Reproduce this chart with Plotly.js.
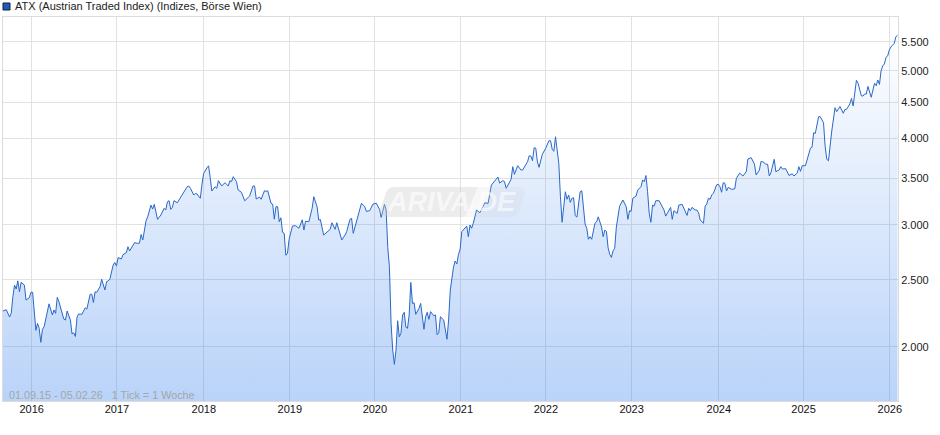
<!DOCTYPE html>
<html><head><meta charset="utf-8">
<script src="https://cdn.plot.ly/plotly-3.0.1.min.js"></script>
<style>html,body{margin:0;padding:0;background:#fff}#c{width:940px;height:435px}</style>
</head><body><div id="c"></div>
<script>
// Week number since the first tick (01.09.15), one tick = one week
const weekIndex = [
0,2,4,5,6,7,8,9,10,11,
13,14,16,17,18,19,20,21,22,23,
24,25,27,28,30,31,32,33,34,36,
37,38,39,41,42,43,44,45,46,48,
50,51,53,54,55,56,57,59,60,62,
63,64,65,67,68,69,70,72,73,75,
76,77,80,82,83,84,85,87,88,90,
91,92,94,96,98,99,100,101,102,103,
104,106,108,109,110,112,113,114,116,117,
118,120,121,122,124,125,126,127,129,130,
131,133,135,137,138,139,140,142,143,145,
147,149,150,152,153,154,156,157,159,160,
161,163,164,165,166,167,168,169,170,171,
172,173,174,176,178,180,181,182,183,184,
186,188,189,191,192,193,195,197,199,200,
202,203,206,208,209,211,212,213,215,217,
218,220,221,223,225,227,229,230,232,233,
234,235,236,237,238,239,240,241,242,243,
244,245,246,247,248,249,250,251,253,254,
256,257,258,259,260,262,263,264,265,266,
268,270,271,272,273,274,275,276,277,278,
279,281,282,283,284,285,286,288,290,292,
293,295,297,299,301,302,304,305,306,309,
310,311,313,315,316,319,320,321,322,323,
324,325,326,328,330,332,333,334,335,336,
338,339,340,341,342,343,344,345,346,347,
348,349,351,352,353,354,355,356,357,358,
360,361,362,364,365,366,367,368,369,370,
371,372,373,375,377,379,380,381,382,383,
385,386,388,389,390,391,392,393,394,395,
396,397,399,401,402,403,405,406,407,408,
410,411,413,414,415,416,417,418,419,421,
422,423,424,426,427,428,429,430,431,432,
434,435,436,437,438,439,440,441,443,445,
446,448,450,452,453,455,457,458,460,461,
462,464,465,466,467,469,470,472,473,474,
476,478,480,481,483,484,485,486,488,490,
491,492,493,494,496,497,499,500,501,502,
503,504,506,507,509,511,512,513,515,516,
517,519,520,522,523,524,525,526,528,530,
531,532,533,534,535,536,537,538,539,540,
542,543,544
];
const atxClose = [
2254,2263,2209,2236,2363,2456,2424,2491,2402,2478,
2456,2337,2355,2398,2398,2236,2114,2163,2128,2031,
2121,2139,2249,2308,2224,2261,2236,2358,2324,2229,
2194,2187,2254,2187,2088,2097,2071,2209,2231,2229,
2278,2268,2382,2382,2318,2402,2398,2443,2503,2416,
2484,2490,2505,2625,2647,2616,2690,2678,2717,2735,
2789,2750,2827,2820,2822,2905,2852,3040,3080,3202,
3160,3210,3054,3098,3168,3150,3238,3249,3157,3178,
3249,3227,3281,3322,3347,3403,3411,3385,3311,3329,
3322,3275,3432,3554,3623,3647,3509,3355,3403,3385,
3472,3411,3449,3411,3472,3461,3518,3460,3366,3341,
3248,3281,3300,3411,3411,3267,3289,3264,3358,3351,
3358,3220,3212,3056,3185,3185,3030,3070,2926,2916,
2711,2729,2859,2987,2990,2965,3020,3050,2948,3035,
3030,3168,3292,3185,3047,3052,2899,2932,2955,3020,
2955,3020,2852,2899,2932,3054,3064,2916,3040,3150,
3222,3185,3136,3143,3213,3222,3157,3074,3210,3150,
2782,2610,2163,1980,1888,1980,2182,2069,2092,2224,
2244,2136,2128,2224,2478,2311,2316,2229,2274,2311,
2121,2211,2244,2192,2249,2218,2224,2083,2097,2211,
2187,2052,2187,2416,2539,2610,2660,2634,2720,2765,
2932,2965,2987,2883,2997,2965,3015,3150,3122,3191,
3227,3220,3422,3468,3514,3445,3472,3461,3385,3488,
3637,3546,3649,3597,3597,3697,3771,3767,3709,3873,
3866,3697,3629,3790,3866,3964,3964,3853,3828,4016,
3678,3292,3025,3185,3347,3264,3311,3231,3275,3281,
3093,3076,3347,3358,3168,3007,2965,2859,2883,2859,
3015,3030,3080,2977,2883,2948,2932,2778,2720,2692,
2752,2775,2977,3191,3256,3185,3054,3143,3136,3275,
3300,3366,3403,3480,3460,3532,3347,3115,3025,3202,
3191,3249,3249,3185,3150,3087,3150,3178,3054,3143,
3115,3202,3210,3168,3115,3094,3168,3143,3178,3150,
3150,3122,3047,3015,3191,3213,3275,3264,3311,3329,
3424,3432,3404,3341,3449,3442,3355,3396,3374,3379,
3500,3560,3526,3577,3731,3747,3668,3538,3597,3702,
3697,3666,3666,3526,3565,3727,3577,3597,3637,3609,
3613,3532,3552,3526,3560,3637,3581,3649,3649,3811,
3866,3879,4070,4062,4293,4293,4208,3884,3727,3709,
3951,4093,4423,4365,4440,4342,4396,4399,4477,4562,
4448,4843,4795,4601,4597,4628,4628,4746,4578,4795,
4757,4848,4778,5000,5079,5113,5227,5250,5356,5410,
5477,5597,5622
];
const firstTick = "2015-09-01";
const lastTick = "2026-02-05";
const yearTicks = ["2016-01-01","2016-12-29","2018-01-03","2019-01-04","2020-01-01","2021-01-01","2021-12-29","2022-12-29","2024-01-04","2024-12-30","2026-01-01"];
const yearLabels = ["2016","2017","2018","2019","2020","2021","2022","2023","2024","2025","2026"];
const priceTicks = [2000,2500,3000,3500,4000,4500,5000,5500];
const priceLabels = ["2.000","2.500","3.000","3.500","4.000","4.500","5.000","5.500"];
const chartTitle = "ATX (Austrian Traded Index) (Indizes, Börse Wien)";
const rangeNote = "01.09.15 - 05.02.26\u00A0\u00A0\u00A01 Tick = 1 Woche";

const base = new Date(firstTick + "T00:00:00Z").getTime();
const dates = weekIndex.map(w => new Date(base + w * 7 * 864e5).toISOString().slice(0, 10));
const font = "Liberation Sans, Arial, sans-serif";
const L = 3, R = 898, T = 17, B = 401;
const px = x => (x - L) / (R - L), py = y => (B - y) / (B - T);

const trace = {
  x: dates, y: atxClose, type: "scatter", mode: "lines",
  line: {color: "#2a68c8", width: 1},
  fill: "tozeroy",
  fillgradient: {type: "vertical", start: 1672, stop: 5650, colorscale: [[0, "rgba(30,113,235,0.31)"], [1, "rgba(30,113,235,0.0)"]]},
  hoverinfo: "skip", showlegend: false
};
const layout = {
  width: 940, height: 435, paper_bgcolor: "#fff", plot_bgcolor: "#fff",
  margin: {l: L, r: 940 - R, t: T, b: 435 - B, pad: 0},
  font: {family: font, size: 11, color: "#222"},
  xaxis: {type: "date", range: [firstTick, lastTick], tickmode: "array", tickvals: yearTicks, ticktext: yearLabels,
    showgrid: true, gridcolor: "#e2e2e2", gridwidth: 1, zeroline: false, ticks: "", showline: true, mirror: true, linecolor: "#dcdcdc", linewidth: 1,
    ticklabelstandoff: -2, tickfont: {family: font, size: 11, color: "#111"}, fixedrange: true},
  yaxis: {type: "log", range: [Math.log10(1672), Math.log10(5975)], side: "right", tickmode: "array", tickvals: priceTicks, ticktext: priceLabels,
    showgrid: true, gridcolor: "#e2e2e2", gridwidth: 1, zeroline: false, ticks: "", showline: true, mirror: true, linecolor: "#dcdcdc", linewidth: 1,
    tickfont: {family: font, size: 11, color: "#222"}, fixedrange: true},
  shapes: [
    {type: "rect", xref: "paper", yref: "paper", x0: px(3), x1: px(10), y0: py(10), y1: py(3), fillcolor: "#1c5cba", line: {color: "#123", width: 1}},
    {type: "path", xref: "paper", yref: "paper", layer: "above", fillcolor: "rgba(200,200,200,0.35)", line: {width: 0},
     path: `M ${px(392)} ${py(217)} L ${px(465)} ${py(217)} L ${px(478)} ${py(187)} L ${px(394)} ${py(187)} Q ${px(388)} ${py(187)} ${px(386)} ${py(193)} L ${px(380)} ${py(210)} Q ${px(379)} ${py(217)} ${px(392)} ${py(217)} Z`},
    {type: "path", xref: "paper", yref: "paper", layer: "above", fillcolor: "rgba(200,200,200,0.15)", line: {width: 0},
     path: `M ${px(465)} ${py(217)} L ${px(510)} ${py(217)} Q ${px(518)} ${py(217)} ${px(520)} ${py(210)} L ${px(525)} ${py(193)} Q ${px(526)} ${py(187)} ${px(518)} ${py(187)} L ${px(478)} ${py(187)} Z`}
  ],
  annotations: [
    {xref: "paper", yref: "paper", x: px(13), y: py(6), xanchor: "left", yanchor: "middle", showarrow: false, text: chartTitle, font: {family: font, size: 11, color: "#222"}},
    {xref: "paper", yref: "paper", x: px(7), y: py(395), xanchor: "left", yanchor: "middle", showarrow: false, text: rangeNote, font: {family: font, size: 10.8, color: "#a6a6a6"}},
    {xref: "paper", yref: "paper", x: px(451), y: py(202), xanchor: "center", yanchor: "middle", showarrow: false, text: "<b><i>ARIVA.DE</i></b>", font: {family: font, size: 27, color: "rgba(255,255,255,0.6)"}}
  ]
};
Plotly.newPlot("c", [trace], layout, {staticPlot: true, displayModeBar: false});
</script></body></html>
